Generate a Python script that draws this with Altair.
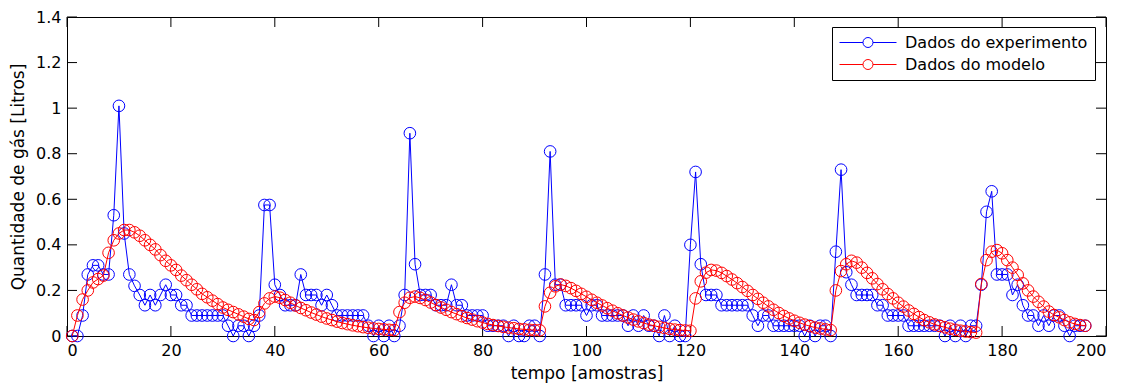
import altair as alt
import pandas as pd

# ---------------- data ----------------
amostras = list(range(1, 197))

experimento = [
    0, 0, 0.09, 0.27, 0.31, 0.31, 0.27, 0.27, 0.53, 1.01,            # 1-10
    0.45, 0.27, 0.22, 0.18, 0.135, 0.18, 0.135, 0.18, 0.225, 0.18,   # 11-20
    0.18, 0.135, 0.135, 0.09, 0.09, 0.09, 0.09, 0.09, 0.09, 0.09,    # 21-30
    0.045, 0, 0.045, 0.045, 0, 0.045, 0.09, 0.575, 0.575, 0.225,     # 31-40
    0.18, 0.135, 0.135, 0.135, 0.27, 0.18, 0.18, 0.18, 0.135, 0.18,  # 41-50
    0.135, 0.09, 0.09, 0.09, 0.09, 0.09, 0.09, 0.045, 0, 0.045,      # 51-60
    0, 0.045, 0, 0.045, 0.18, 0.89, 0.315, 0.18, 0.18, 0.18,         # 61-70
    0.135, 0.135, 0.135, 0.225, 0.135, 0.135, 0.09, 0.09, 0.09, 0.09,  # 71-80
    0.045, 0.045, 0.045, 0.045, 0, 0.045, 0, 0, 0.045, 0.045,        # 81-90
    0, 0.27, 0.81, 0.225, 0.225, 0.135, 0.135, 0.135, 0.135, 0.09,   # 91-100
    0.135, 0.135, 0.09, 0.09, 0.09, 0.09, 0.09, 0.045, 0.09, 0.045,  # 101-110
    0.09, 0.045, 0.045, 0, 0.09, 0, 0.045, 0, 0, 0.40,               # 111-120
    0.72, 0.315, 0.18, 0.18, 0.18, 0.135, 0.135, 0.135, 0.135, 0.135,  # 121-130
    0.135, 0.09, 0.045, 0.09, 0.09, 0.045, 0.045, 0.045, 0.045, 0.045,  # 131-140
    0.045, 0, 0.045, 0, 0.045, 0.045, 0, 0.37, 0.73, 0.28,           # 141-150
    0.225, 0.18, 0.18, 0.18, 0.18, 0.135, 0.135, 0.09, 0.09, 0.09,   # 151-160
    0.09, 0.045, 0.045, 0.045, 0.045, 0.045, 0.045, 0.045, 0, 0.045, # 161-170
    0, 0.045, 0, 0.045, 0.045, 0.225, 0.545, 0.635, 0.27, 0.27,      # 171-180
    0.27, 0.18, 0.225, 0.135, 0.09, 0.09, 0.045, 0.09, 0.045, 0.09,  # 181-190
    0.09, 0.045, 0, 0.045, 0.045, 0.045,                             # 191-196
]

modelo = [
    0, 0.09, 0.16, 0.20, 0.235, 0.25, 0.265, 0.365, 0.42, 0.45,      # 1-10
    0.465, 0.465, 0.455, 0.44, 0.42, 0.40, 0.38, 0.355, 0.33, 0.31,  # 11-20
    0.29, 0.265, 0.245, 0.225, 0.205, 0.185, 0.17, 0.155, 0.14, 0.125,  # 21-30
    0.115, 0.105, 0.095, 0.085, 0.075, 0.07, 0.105, 0.143, 0.165, 0.173,  # 31-40
    0.168, 0.158, 0.146, 0.134, 0.123, 0.113, 0.103, 0.094, 0.085, 0.077,  # 41-50
    0.07, 0.063, 0.057, 0.052, 0.047, 0.043, 0.039, 0.036, 0.033, 0.031,  # 51-60
    0.029, 0.027, 0.026, 0.105, 0.146, 0.168, 0.173, 0.167, 0.158, 0.147,  # 61-70
    0.136, 0.125, 0.115, 0.105, 0.096, 0.087, 0.079, 0.072, 0.065, 0.059,  # 71-80
    0.053, 0.048, 0.044, 0.04, 0.037, 0.034, 0.031, 0.029, 0.027, 0.026,  # 81-90
    0.025, 0.13, 0.19, 0.218, 0.226, 0.22, 0.21, 0.198, 0.185, 0.172,    # 91-100
    0.159, 0.146, 0.134, 0.122, 0.111, 0.10, 0.09, 0.081, 0.072, 0.064,  # 101-110
    0.057, 0.05, 0.045, 0.04, 0.035, 0.031, 0.028, 0.026, 0.024, 0.023,  # 111-120
    0.165, 0.24, 0.278, 0.29, 0.287, 0.277, 0.263, 0.248, 0.232, 0.215,  # 121-130
    0.198, 0.18, 0.163, 0.146, 0.13, 0.115, 0.101, 0.088, 0.077, 0.067,  # 131-140
    0.058, 0.05, 0.043, 0.037, 0.033, 0.029, 0.026, 0.20, 0.285, 0.315,  # 141-150
    0.33, 0.322, 0.30, 0.277, 0.253, 0.228, 0.205, 0.184, 0.165, 0.146,  # 151-160
    0.129, 0.112, 0.097, 0.083, 0.07, 0.06, 0.051, 0.044, 0.038, 0.032,  # 161-170
    0.027, 0.023, 0.02, 0.017, 0.015, 0.228, 0.333, 0.37, 0.377, 0.363,  # 171-180
    0.333, 0.30, 0.268, 0.231, 0.20, 0.173, 0.15, 0.129, 0.107, 0.092,   # 181-190
    0.082, 0.07, 0.06, 0.053, 0.048, 0.045,                             # 191-196
]

series_names = ["Dados do experimento", "Dados do modelo"]
series_colors = ["#0000ff", "#ff0000"]
x_ticks = [0, 20, 40, 60, 80, 100, 120, 140, 160, 180, 200]
y_ticks = [0, 0.2, 0.4, 0.6, 0.8, 1.0, 1.2, 1.4]
x_title = "tempo [amostras]"
y_title = "Quantidade de gás [Litros]"

# ---------------- build ----------------
W, H = 1039, 319
FONT = "DejaVu Sans"
TICK_LEN = 10

df = pd.concat([
    pd.DataFrame({"x": amostras, "y": experimento, "serie": series_names[0]}),
    pd.DataFrame({"x": amostras, "y": modelo, "serie": series_names[1]}),
])

xscale = alt.Scale(domain=[0, 200], nice=False, zero=False)
yscale = alt.Scale(domain=[0, 1.4], nice=False, zero=False)
x_axis = alt.Axis(values=x_ticks, title=x_title, format="d", titleY=37, titleBaseline="middle")
y_axis = alt.Axis(values=y_ticks, title=y_title, format="~g", titleX=-49, titleBaseline="middle")

# legend symbol: line with an open circle in the middle (unit = 8px)
sym = ("M-1,0L1.935,0M3.185,0L6.125,0"
       "M1.935,0A0.625,0.625,0,1,0,3.185,0A0.625,0.625,0,1,0,1.935,0")
legend = alt.Legend(
    title=None, orient="none", legendX=765, legendY=10,
    strokeColor="black", fillColor="white", padding=7, cornerRadius=0,
    labelFont=FONT, labelFontSize=16, labelColor="black", labelLimit=400, labelOffset=49,
    symbolType=sym, symbolSize=256, symbolStrokeWidth=1, symbolFillColor="transparent",
    rowPadding=5,
)
color = alt.Color("serie:N", scale=alt.Scale(domain=series_names, range=series_colors), legend=legend)

layers = []
for name in series_names:
    base = alt.Chart(df).transform_filter(alt.datum.serie == name)
    enc = dict(
        x=alt.X("x:Q", scale=xscale, axis=x_axis),
        y=alt.Y("y:Q", scale=yscale, axis=y_axis),
        color=color,
    )
    layers.append(base.mark_line(strokeWidth=1).encode(order=alt.Order("x:Q"), **enc))
    layers.append(base.mark_point(shape="circle", filled=False, size=135, strokeWidth=1, opacity=1).encode(**enc))

xt = pd.DataFrame({"v": x_ticks})
yt = pd.DataFrame({"v": y_ticks})
rx = alt.X("v:Q", scale=xscale, axis=x_axis)
ry = alt.Y("v:Q", scale=yscale, axis=y_axis)
tick_layers = [
    alt.Chart(xt).mark_rule(color="black", strokeWidth=1).encode(x=rx, y=alt.value(H), y2=alt.value(H - TICK_LEN)),
    alt.Chart(xt).mark_rule(color="black", strokeWidth=1).encode(x=rx, y=alt.value(0), y2=alt.value(TICK_LEN)),
    alt.Chart(yt).mark_rule(color="black", strokeWidth=1).encode(y=ry, x=alt.value(0), x2=alt.value(TICK_LEN)),
    alt.Chart(yt).mark_rule(color="black", strokeWidth=1).encode(y=ry, x=alt.value(W - TICK_LEN), x2=alt.value(W)),
]

chart = alt.layer(*tick_layers, *layers).properties(
    width=W, height=H,
    autosize=alt.AutoSizeParams(type="none"),
    padding={"left": 59, "top": 9, "right": 14, "bottom": 50},
).configure_view(
    stroke="black", strokeWidth=1
).configure_axis(
    grid=False, ticks=False, domain=False,
    labelFont=FONT, labelFontSize=16, labelColor="black", labelPadding=6,
    titleFont=FONT, titleFontSize=17, titleFontWeight="normal", titleColor="black",
)

chart.save("out.html", embed_options={"renderer": "svg", "actions": False})
